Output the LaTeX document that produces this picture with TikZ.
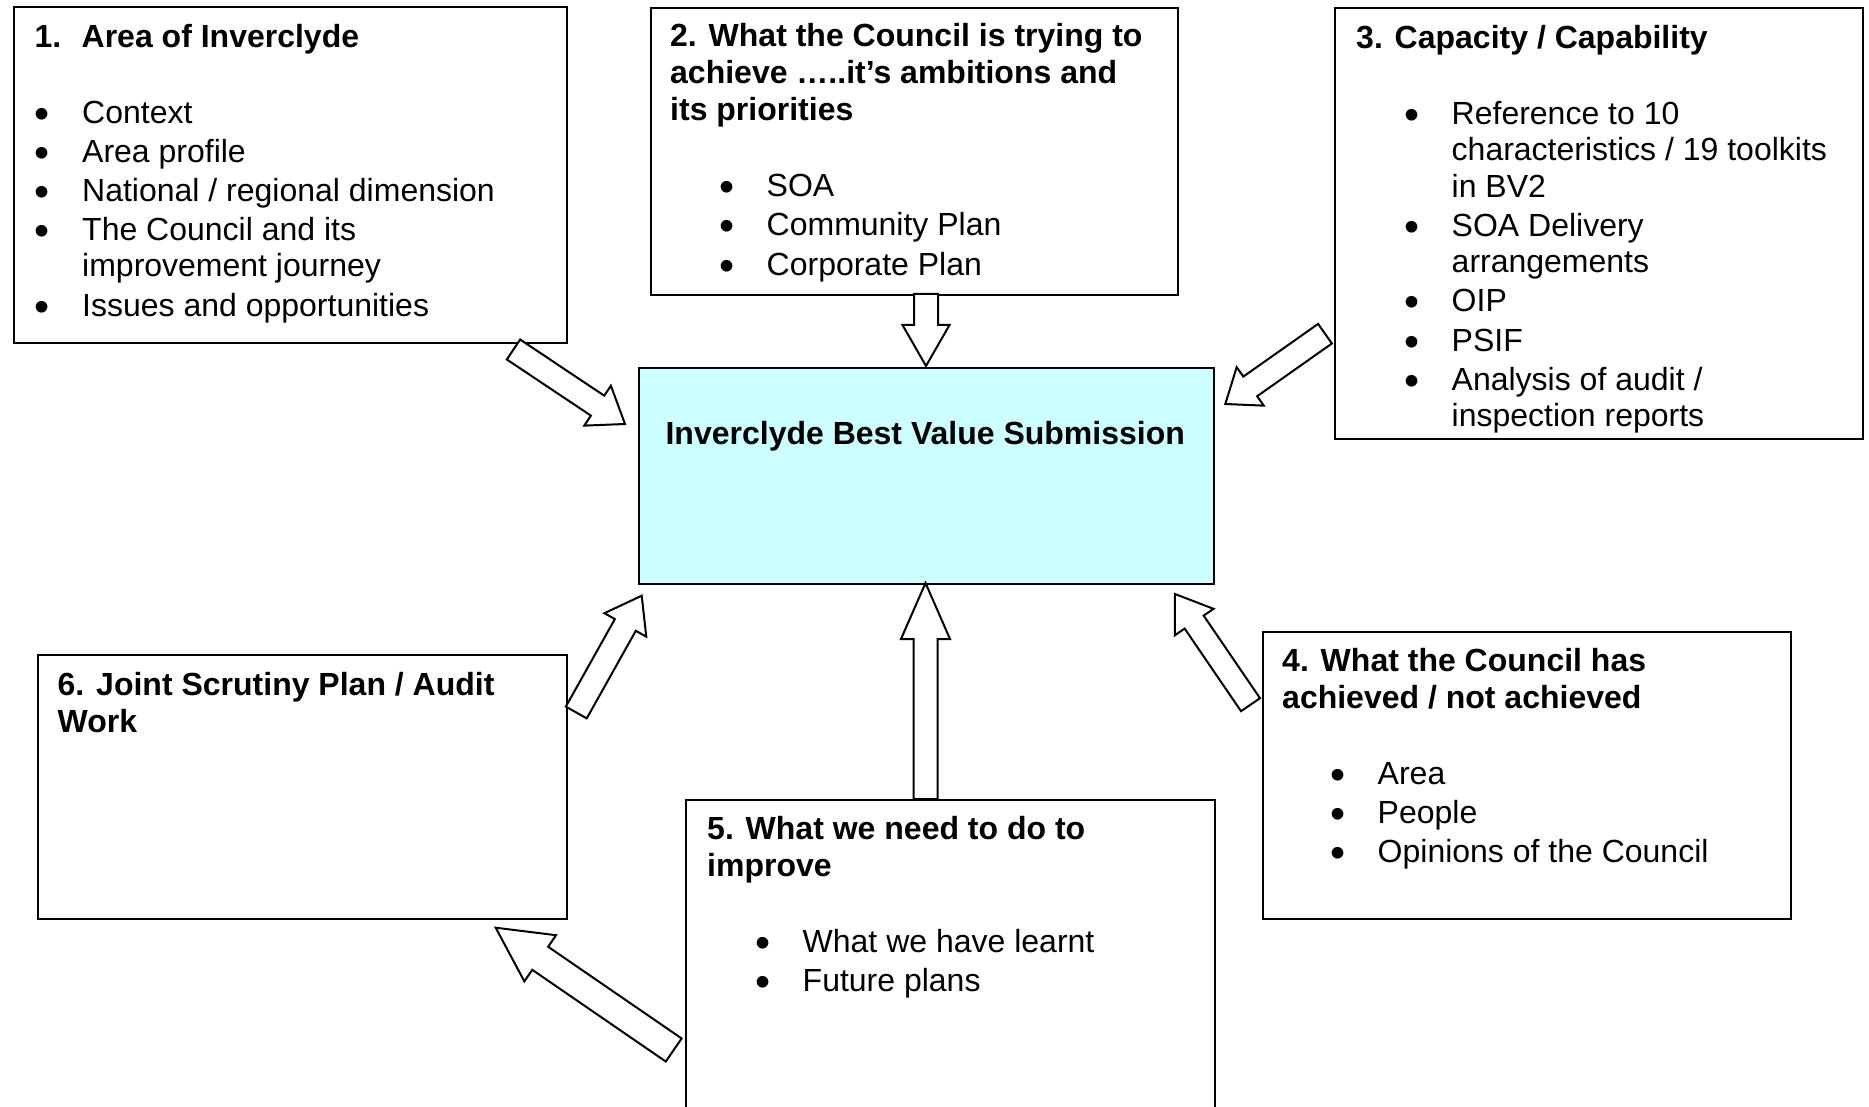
\documentclass[tikz,border=0pt]{standalone}
\usepackage{fontspec}
\setmainfont{Liberation Sans}
\usetikzlibrary{calc}

\definecolor{hubfill}{RGB}{204,255,255}

% bullet mark followed by the item indent
\newcommand\blt{\makebox[47.5pt][l]{\raisebox{-5pt}{\fontsize{43}{36.5}\selectfont\textbullet}}}

% hollow block arrow: tail, tip, half shaft width, half head width, head length
\newcommand\fatarrow[5]{%
  \coordinate (#1#2base) at ($(#2)!#5!(#1)$);
  \draw[barrow]
    ($(#1)!#3!90:(#2)$) -- ($(#1#2base)!#3!90:(#2)$) -- ($(#1#2base)!#4!90:(#2)$)
    -- (#2)
    -- ($(#1#2base)!#4!-90:(#2)$) -- ($(#1#2base)!#3!-90:(#2)$) -- ($(#1)!#3!-90:(#2)$)
    -- cycle;
}

\tikzset{
  panel/.style={draw=black, line width=2pt, fill=white, rectangle, inner sep=0pt, anchor=north west},
  hub/.style={panel, fill=hubfill},
  paneltext/.style={anchor=north west, inner sep=0pt, align=left, font=\fontsize{32}{36.5}\selectfont},
  barrow/.style={draw=black, line width=2pt, fill=white, line join=miter},
}

\begin{document}
\begin{tikzpicture}[x=1pt,y=-1pt]
\useasboundingbox (0,0) rectangle (1869,1107);
\clip (0,0) rectangle (1869,1107);

% frames
\node[panel, minimum width=553pt, minimum height=336pt] (b1) at (13,6) {};
\node[panel, minimum width=527pt, minimum height=287pt] (b2) at (650,7) {};
\node[panel, minimum width=528pt, minimum height=431pt] (b3) at (1334,7) {};
\node[hub,   minimum width=575.5pt, minimum height=216pt] (hub) at (637.5,367) {};
\node[panel, minimum width=528pt, minimum height=287pt] (b4) at (1262,631) {};
\node[panel, minimum width=529pt, minimum height=330pt] (b5) at (685,799) {};
\node[panel, minimum width=529pt, minimum height=264pt] (b6) at (37,654) {};

% arrow ends
\coordinate (a1s) at (513.5,349.5);  \coordinate (a1e) at (625,424);
\coordinate (a2s) at (926,294);      \coordinate (a2e) at (926,366);
\coordinate (a3s) at (1325,333.7);   \coordinate (a3e) at (1225.3,404);
\coordinate (a4s) at (1250.5,704.7); \coordinate (a4e) at (1175,594);
\coordinate (a5s) at (925.5,799);    \coordinate (a5e) at (925.5,583);
\coordinate (a6s) at (576.3,712.5);  \coordinate (a6e) at (641.7,595.7);
\coordinate (a7s) at (673.7,1050);   \coordinate (a7e) at (495.7,927.7);

\fatarrow{a1s}{a1e}{12pt}{24pt}{33pt}
\fatarrow{a2s}{a2e}{12pt}{23.5pt}{41pt}
\fatarrow{a3s}{a3e}{12pt}{23.5pt}{30.5pt}
\fatarrow{a4s}{a4e}{11.5pt}{23.5pt}{34pt}
\fatarrow{a5s}{a5e}{12pt}{24.5pt}{56pt}
\fatarrow{a6s}{a6e}{12pt}{24pt}{33.5pt}
\fatarrow{a7s}{a7e}{14pt}{28pt}{54pt}

% texts
\node[paneltext] (t1) at (34.5,17) {%
\rule{0pt}{30pt}\textbf{\makebox[47pt][l]{1.}Area of Inverclyde}\\[39.5pt]
\blt Context\\[2.6pt]
\blt Area profile\\[2.6pt]
\blt National / regional dimension\\[2.6pt]
\blt The Council and its\\
\hspace*{47.5pt}improvement journey\\[2.6pt]
\blt Issues and opportunities};

\node[paneltext] (t2) at (670,16) {%
\rule{0pt}{30pt}\textbf{2. What the Council is trying to}\\[0.5pt]
\textbf{achieve …..it’s ambitions and}\\[0.5pt]
\textbf{its priorities}\\[39.5pt]
\hspace*{49pt}\blt SOA\\[3.2pt]
\hspace*{49pt}\blt Community Plan\\[3.2pt]
\hspace*{49pt}\blt Corporate Plan};

\node[paneltext] (t3) at (1356,18) {%
\rule{0pt}{30pt}\textbf{3. Capacity / Capability}\\[39.5pt]
\hspace*{48pt}\blt Reference to 10\\
\hspace*{95.5pt}characteristics / 19 toolkits\\
\hspace*{95.5pt}in BV2\\[2.6pt]
\hspace*{48pt}\blt SOA Delivery\\
\hspace*{95.5pt}arrangements\\[2.6pt]
\hspace*{48pt}\blt OIP\\[2.6pt]
\hspace*{48pt}\blt PSIF\\[2.6pt]
\hspace*{48pt}\blt Analysis of audit /\\
\hspace*{95.5pt}inspection reports};

\node[paneltext] (t4) at (1282,641) {%
\rule{0pt}{30pt}\textbf{4. What the Council has}\\[0.5pt]
\textbf{achieved / not achieved}\\[39.5pt]
\hspace*{48pt}\blt Area\\[2.8pt]
\hspace*{48pt}\blt People\\[2.8pt]
\hspace*{48pt}\blt Opinions of the Council};

\node[paneltext] (t5) at (707,809) {%
\rule{0pt}{30pt}\textbf{5. What we need to do to}\\[0.5pt]
\textbf{improve}\\[39.5pt]
\hspace*{48pt}\blt What we have learnt\\[2.8pt]
\hspace*{48pt}\blt Future plans};

\node[paneltext] (t6) at (57.5,665) {%
\rule{0pt}{30pt}\textbf{6. Joint Scrutiny Plan / Audit}\\[0.5pt]
\textbf{Work}};

\node[anchor=base, inner sep=0pt, font=\fontsize{32}{36.5}\selectfont\bfseries] (hubtext)
  at (925.25,444) {Inverclyde Best Value Submission};
\end{tikzpicture}
\end{document}
